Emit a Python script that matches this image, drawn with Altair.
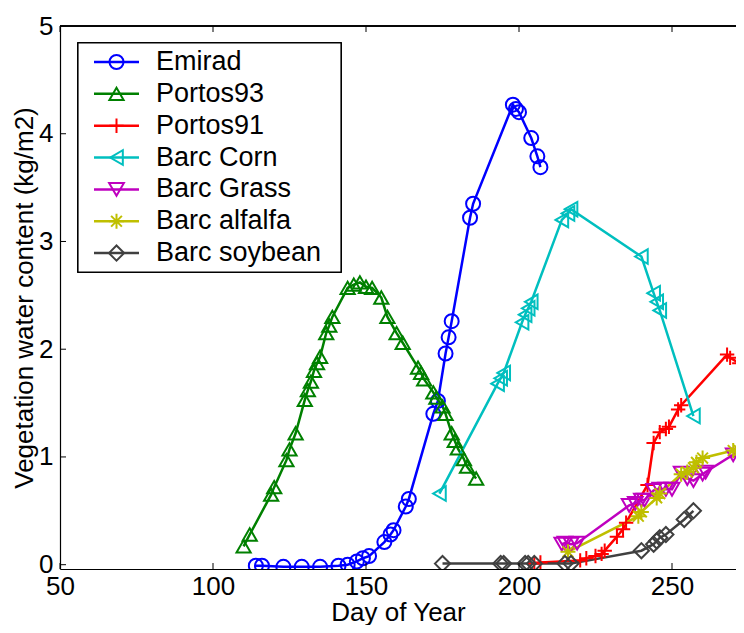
import altair as alt
import pandas as pd

# ---- data ----
names = ["Emirad", "Portos93", "Portos91", "Barc Corn", "Barc Grass", "Barc alfalfa", "Barc soybean"]
colors = ["#0000FF", "#008000", "#FF0000", "#00BFBF", "#BF00BF", "#BFBF00", "#404040"]

emirad_day = [114, 116, 123, 129, 135, 141, 144, 147, 149, 151, 156, 158, 159, 163, 164,
              172, 173.5, 176, 177, 178, 184, 185, 198, 199, 200, 204, 206, 207]
emirad_val = [-0.01, -0.01, -0.02, -0.02, -0.02, -0.01, 0.0, 0.03, 0.06, 0.08, 0.21, 0.28, 0.32, 0.54, 0.61,
              1.40, 1.52, 1.96, 2.11, 2.26, 3.22, 3.35, 4.27, 4.23, 4.20, 3.96, 3.79, 3.69]

portos93_day = [110, 112, 119, 120, 124, 125, 127, 130, 131, 132, 133, 134, 135, 137, 138, 139,
                144, 146, 148, 150, 152, 155, 157, 160, 162, 167, 168, 169, 172, 173, 175, 176,
                178, 179, 180, 182, 183, 186]
portos93_val = [0.17, 0.28, 0.65, 0.72, 0.97, 1.07, 1.22, 1.53, 1.62, 1.70, 1.80, 1.87, 1.93, 2.15, 2.22, 2.30,
                2.57, 2.60, 2.62, 2.58, 2.57, 2.48, 2.30, 2.15, 2.06, 1.83, 1.78, 1.72, 1.60, 1.55, 1.47, 1.40,
                1.22, 1.15, 1.08, 0.98, 0.91, 0.80]

portos91_day = [205, 207, 220, 222, 225, 227, 228, 232, 234, 235, 242, 244, 246, 248, 249, 252, 253,
                268, 269, 272, 274]
portos91_val = [0.01, 0.02, 0.04, 0.06, 0.08, 0.10, 0.13, 0.26, 0.33, 0.39, 0.74, 1.13, 1.23, 1.26, 1.28, 1.44, 1.48,
                1.95, 1.92, 1.87, 1.80]

corn_day = [174, 193, 194, 195, 201, 202, 203, 204, 214, 216, 217, 240, 244, 245, 246, 257]
corn_val = [0.66, 1.68, 1.73, 1.78, 2.25, 2.32, 2.38, 2.44, 3.20, 3.26, 3.30, 2.86, 2.52, 2.44, 2.36, 1.38]

grass_day = [214, 215, 217, 219, 236, 238, 240, 241, 244, 246, 248, 250, 253, 255, 257, 260, 261, 270, 273]
grass_val = [0.19, 0.20, 0.19, 0.20, 0.55, 0.57, 0.60, 0.60, 0.69, 0.70, 0.70, 0.70, 0.85, 0.80, 0.78, 0.84, 0.86,
             1.02, 0.97]

alfalfa_day = [216, 239, 240, 245, 246, 253, 255, 257, 258, 260, 270, 272]
alfalfa_val = [0.12, 0.45, 0.49, 0.62, 0.66, 0.84, 0.86, 0.90, 0.95, 0.99, 1.06, 1.06]

soybean_day = [175, 194, 195, 202, 203, 205, 215, 217, 240, 244, 245, 246, 248, 254, 257]
soybean_val = [0.01, 0.01, 0.01, 0.01, 0.01, 0.01, 0.01, 0.01, 0.13, 0.19, 0.22, 0.25, 0.28, 0.42, 0.50]

x_ticks = [50, 100, 150, 200, 250]
y_ticks = [0, 1, 2, 3, 4, 5]

series_days = [emirad_day, portos93_day, portos91_day, corn_day, grass_day, alfalfa_day, soybean_day]
series_vals = [emirad_val, portos93_val, portos91_val, corn_val, grass_val, alfalfa_val, soybean_val]

rows = []
for s, (dd, vv) in enumerate(zip(series_days, series_vals)):
    for i, (d, v) in enumerate(zip(dd, vv)):
        rows.append({"series": names[s], "sid": s, "i": i, "day": d, "vwc": v})
df = pd.DataFrame(rows)

# ---- styles ----
FONT = "Liberation Sans"
FS = 26
FS_LEG = 27
PLUS = "M-1,0L1,0M0,-1L0,1"
STAR = "M-1,0L1,0M0,-1L0,1M-0.72,-0.72L0.72,0.72M-0.72,0.72L0.72,-0.72"
shapes = ["circle", "triangle-up", PLUS, "triangle-left", "triangle-down", STAR, "diamond"]
sizes = [196, 230, 225, 230, 230, 180, 260]

PX_PER_DAY = 3.06
W, H = 676, 543
XDOM = [50, 50 + W / PX_PER_DAY]
YDOM = [-0.04, 5]

color = alt.Color("series:N", scale=alt.Scale(domain=names, range=colors), legend=None)
shape = alt.Shape("series:N", scale=alt.Scale(domain=names, range=shapes), legend=None)
size = alt.Size("series:N", scale=alt.Scale(domain=names, range=sizes), legend=None)

xenc = alt.X("day:Q", scale=alt.Scale(domain=XDOM, nice=False, zero=False),
             axis=alt.Axis(values=x_ticks, format="d", title="Day of Year", grid=False, ticks=False,
                           domain=True, domainColor="black", domainWidth=1.2,
                           labelPadding=4, labelFlush=False,
                           titleY=51, titleBaseline="alphabetic"))
yenc = alt.Y("vwc:Q", scale=alt.Scale(domain=YDOM, nice=False, zero=False),
             axis=alt.Axis(values=y_ticks, format="d", title="Vegetation water content (kg/m2)",
                           grid=False, ticks=False, domain=True, domainColor="black", domainWidth=1.2,
                           labelPadding=7, labelFlush=False,
                           titleX=-36, titleBaseline="middle"))

base = alt.Chart(df)
lines = base.mark_line(strokeWidth=2.5, clip=True).encode(
    x=xenc, y=yenc, color=color, detail="series:N", order="i:Q")
points = base.mark_point(filled=False, strokeWidth=2, opacity=1, clip=True).encode(
    x="day:Q", y="vwc:Q", color=color, shape=shape, size=size)

# inward tick marks (MATLAB style) and the top frame line
xt = pd.DataFrame({"t": x_ticks})
yt = pd.DataFrame({"t": y_ticks})
tick_bottom = alt.Chart(xt).mark_rule(color="black", strokeWidth=1).encode(
    x=alt.X("t:Q"), y=alt.value(H), y2=alt.value(H - 6))
tick_top = alt.Chart(xt).mark_rule(color="black", strokeWidth=1).encode(
    x=alt.X("t:Q"), y=alt.value(0), y2=alt.value(6))
tick_left = alt.Chart(yt).mark_rule(color="black", strokeWidth=1).encode(
    y=alt.Y("t:Q"), x=alt.value(0), x2=alt.value(6))
top_frame = alt.Chart(xt).mark_rule(color="black", strokeWidth=1.2).encode(
    x=alt.value(0), x2=alt.value(W), y=alt.value(0))

# legend (drawn manually to get line+marker symbols)
leg = pd.DataFrame({"series": names, "idx": list(range(len(names)))})
legbase = alt.Chart(leg).transform_calculate(ypx="36 + datum.idx * 31.85")
legbox = alt.Chart(leg).mark_rect(fill="white", stroke="black", strokeWidth=1.2).encode(
    x=alt.value(18), x2=alt.value(281), y=alt.value(17), y2=alt.value(246))
legline = legbase.mark_rule(strokeWidth=2.5).encode(
    x=alt.value(34), x2=alt.value(79), y=alt.Y("ypx:Q", scale=None, axis=None), color=color)
legpt = legbase.mark_point(filled=False, strokeWidth=2, opacity=1).encode(
    x=alt.value(56.5), y=alt.Y("ypx:Q", scale=None, axis=None), color=color, shape=shape, size=size)
legtxt = legbase.mark_text(align="left", baseline="middle", font=FONT, fontSize=FS_LEG, color="black").encode(
    x=alt.value(96), y=alt.Y("ypx:Q", scale=None, axis=None), text="series:N")

chart = alt.layer(
    lines, points, tick_bottom, tick_top, tick_left, top_frame,
    legbox, legline, legpt, legtxt
).properties(
    width=W, height=H,
    background="white",
    autosize=alt.AutoSizeParams(type="none"),
    padding={"left": 52, "top": 18, "right": 0, "bottom": 56},
).configure_view(
    stroke=None
).configure_axis(
    labelFont=FONT, titleFont=FONT, labelFontSize=FS, titleFontSize=FS,
    labelColor="black", titleColor="black", titleFontWeight="normal"
)

chart.save("out.html", embed_options={"renderer": "svg", "actions": False})
